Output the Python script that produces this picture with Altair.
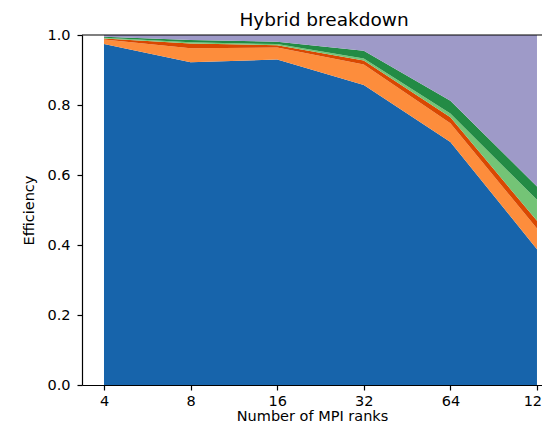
import altair as alt
import pandas as pd

# ---- data ----
ranks = [4, 8, 16, 32, 64, 128]
series = ["Compute", "Load imbalance", "Serialization",
          "Thread overhead", "Communication", "Other"]
compute = [0.974, 0.922, 0.930, 0.857, 0.694, 0.388]
load_imbalance = [0.013, 0.040, 0.034, 0.059, 0.054, 0.059]
serialization = [0.003, 0.014, 0.007, 0.011, 0.017, 0.022]
thread_overhead = [0.002, 0.003, 0.003, 0.006, 0.011, 0.060]
communication = [0.003, 0.007, 0.007, 0.022, 0.036, 0.038]
other = [0.005, 0.014, 0.019, 0.045, 0.188, 0.433]
colors = ["#1764ab", "#fd8d3c", "#d94801", "#74c476", "#238b45", "#9e9ac8"]
y_ticks = [0.0, 0.2, 0.4, 0.6, 0.8, 1.0]
y_top = [1.0]

values = [compute, load_imbalance, serialization, thread_overhead,
          communication, other]
rows = []
for i, (name, vals) in enumerate(zip(series, values)):
    for r, v in zip(ranks, vals):
        rows.append({"ranks": r, "series": name, "order": i, "value": v})
df = pd.DataFrame(rows)

FONT = "DejaVu Sans"
x_domain = [2 ** 1.746, 2 ** 7.058]

area = alt.Chart(df).mark_area(interpolate="linear", opacity=1).encode(
    x=alt.X("ranks:Q",
            scale=alt.Scale(type="log", base=2, domain=x_domain, nice=False),
            axis=alt.Axis(values=ranks, format="d", title="Number of MPI ranks",
                          grid=False, labelPadding=4, titlePadding=2)),
    y=alt.Y("value:Q", stack="zero",
            scale=alt.Scale(domain=[0, 1], nice=False),
            axis=alt.Axis(values=y_ticks, format=".1f", title="Efficiency",
                          grid=False, labelPadding=7, titlePadding=10)),
    color=alt.Color("series:N", scale=alt.Scale(domain=series, range=colors),
                    legend=None),
    order=alt.Order("order:Q"),
)

top = alt.Chart(pd.DataFrame({"v": y_top})).mark_rule(
    color="black", strokeWidth=1.2
).encode(y="v:Q")

chart = alt.layer(area, top).properties(
    width=460,
    height=350,
    autosize=alt.AutoSizeParams(type="none"),
    padding={"left": 74, "top": 27, "right": 0, "bottom": 38},
    title=alt.TitleParams("Hybrid breakdown", font=FONT, fontSize=18.5,
                          fontWeight="normal", color="black", dx=12, offset=-2),
).configure_view(stroke=None).configure_axis(
    labelFont=FONT, labelFontSize=14.5, labelColor="black",
    titleFont=FONT, titleFontSize=14.5, titleFontWeight="normal",
    titleColor="black", domainColor="black", tickColor="black",
    domainWidth=1.2, tickWidth=1.2, tickSize=5,
)

chart.save("out.html", embed_options={"renderer": "svg", "actions": False})
